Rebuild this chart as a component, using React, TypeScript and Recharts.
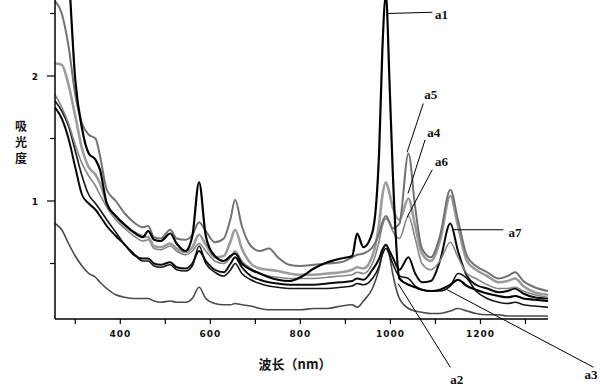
import React from 'react';
import { LineChart, Line, XAxis, YAxis, ReferenceLine, ReferenceDot } from 'recharts';

// wavelength (nm)
const WAVELENGTH = [
  255, 270, 285, 300, 315, 330, 345, 355, 370, 390,
  410, 430, 450, 462, 475, 490, 511, 525, 545, 560,
  575, 590, 610, 630, 645, 655, 670, 690, 710, 730,
  750, 775, 800, 830, 860, 890, 915, 926, 940, 960,
  975, 982, 990, 998, 1005, 1020, 1040, 1055, 1070, 1090, 1110, 1133,
  1150, 1170, 1190, 1215, 1240, 1260, 1277, 1295, 1320, 1350,
];

// absorbance of each sample
const A1 = [
  3.3, 3.5, 2.85, 1.97, 1.58, 1.38, 1.33, 1.25, 0.98, 0.88,
  0.81, 0.75, 0.71, 0.76, 0.69, 0.68, 0.74, 0.66, 0.6, 0.72,
  1.15, 0.72, 0.56, 0.52, 0.56, 0.58, 0.5, 0.45, 0.42, 0.39,
  0.37, 0.36, 0.39, 0.46, 0.51, 0.54, 0.56, 0.74, 0.63, 0.75,
  1.4, 2.2, 2.65, 1.95, 1.25, 0.38, 0.33, 0.31, 0.29, 0.28, 0.29, 0.33,
  0.37, 0.32, 0.29, 0.26, 0.24, 0.23, 0.24, 0.22, 0.21, 0.2,
];
const A2 = [
  0.82, 0.77, 0.66, 0.56, 0.48, 0.42, 0.39, 0.35, 0.3, 0.25,
  0.23, 0.22, 0.22, 0.22, 0.2, 0.19, 0.2, 0.19, 0.19, 0.22,
  0.31, 0.22, 0.18, 0.17, 0.17, 0.18, 0.17, 0.16, 0.14, 0.13,
  0.13, 0.13, 0.13, 0.14, 0.14, 0.16, 0.17, 0.15, 0.2, 0.3,
  0.46, 0.58, 0.65, 0.56, 0.42, 0.22, 0.14, 0.12, 0.11, 0.1, 0.1, 0.12,
  0.14, 0.12, 0.1, 0.09, 0.09, 0.08, 0.08, 0.08, 0.08, 0.08,
];
const A3 = [
  1.8, 1.72, 1.6, 1.4, 1.2, 1.05, 0.98, 0.93, 0.85, 0.75,
  0.65, 0.58, 0.52, 0.52, 0.48, 0.47, 0.49, 0.45, 0.44, 0.48,
  0.64, 0.5, 0.43, 0.4, 0.45, 0.5, 0.42, 0.37, 0.34, 0.32,
  0.31, 0.3, 0.3, 0.3, 0.3, 0.31, 0.32, 0.34, 0.33, 0.38,
  0.48, 0.57, 0.62, 0.57, 0.5, 0.4, 0.38, 0.32, 0.29, 0.28, 0.28, 0.32,
  0.42, 0.38, 0.28, 0.22, 0.19, 0.18, 0.19, 0.17, 0.16, 0.15,
];
const A4 = [
  2.1, 2.09, 1.93, 1.68, 1.42, 1.27, 1.21, 1.14, 0.98, 0.87,
  0.8, 0.75, 0.72, 0.71, 0.64, 0.63, 0.66, 0.62, 0.59, 0.63,
  0.73, 0.65, 0.55, 0.56, 0.68, 0.77, 0.62, 0.5, 0.46, 0.45,
  0.44, 0.42, 0.41, 0.41, 0.42, 0.43, 0.45, 0.47, 0.46, 0.56,
  0.82, 1.04, 1.15, 1.06, 0.95, 0.85, 1.02, 0.8, 0.58, 0.52, 0.68, 1.04,
  0.8, 0.52, 0.45, 0.4, 0.35, 0.36, 0.38, 0.32, 0.27, 0.25,
];
const A5 = [
  2.6, 2.5, 2.24, 1.85, 1.62, 1.53, 1.5, 1.36, 1.09, 1.0,
  0.9, 0.83, 0.79, 0.8, 0.71, 0.7, 0.77, 0.7, 0.69, 0.73,
  0.83, 0.76, 0.67, 0.7, 0.86, 1.01, 0.8, 0.64, 0.6, 0.62,
  0.55, 0.49, 0.48, 0.49, 0.5, 0.51, 0.55, 0.57, 0.58, 0.63,
  0.74, 0.83, 0.88, 0.83, 0.78, 0.82, 1.38, 0.95, 0.62, 0.55, 0.72, 1.09,
  0.85, 0.56, 0.48, 0.43, 0.38, 0.4, 0.43, 0.36, 0.31, 0.28,
];
const A6 = [
  1.85, 1.75, 1.62, 1.45, 1.3, 1.2, 1.12, 1.05, 0.95, 0.85,
  0.78, 0.72, 0.68, 0.69, 0.62, 0.61, 0.64, 0.6, 0.57, 0.6,
  0.66, 0.6, 0.52, 0.5, 0.55, 0.6, 0.52, 0.46, 0.42, 0.4,
  0.39, 0.38, 0.38, 0.38, 0.39, 0.4, 0.41, 0.43, 0.42, 0.5,
  0.68, 0.8, 0.86, 0.82, 0.76, 0.7, 0.88, 0.7, 0.5, 0.45, 0.52, 0.67,
  0.55, 0.42, 0.38, 0.33, 0.3, 0.3, 0.31, 0.28, 0.25, 0.23,
];
const A7 = [
  1.75, 1.66, 1.5, 1.27, 1.05, 0.98, 0.93, 0.88, 0.8, 0.72,
  0.65, 0.57, 0.54, 0.54, 0.5, 0.49, 0.51, 0.47, 0.46, 0.5,
  0.6, 0.52, 0.45, 0.43, 0.5, 0.55, 0.47, 0.4, 0.37, 0.35,
  0.34, 0.33, 0.33, 0.33, 0.34, 0.35, 0.36, 0.38, 0.37, 0.45,
  0.54, 0.61, 0.65, 0.6, 0.55, 0.45, 0.55, 0.42, 0.35, 0.36, 0.52, 0.82,
  0.6, 0.4, 0.33, 0.3, 0.27, 0.28, 0.3, 0.26, 0.23, 0.22,
];

const X_TICKS = [300, 400, 500, 600, 700, 800, 900, 1000, 1100, 1200, 1300];
const Y_TICKS = [0.5, 1, 1.5, 2, 2.5];

const data = WAVELENGTH.map((wl, i) => ({
  wl,
  a1: A1[i], a2: A2[i], a3: A3[i], a4: A4[i], a5: A5[i], a6: A6[i], a7: A7[i],
}));

// drawing order + styles
const SERIES = [
  { key: 'a2', color: '#4a4a4a', width: 1.6 },
  { key: 'a3', color: '#151515', width: 1.6 },
  { key: 'a7', color: '#0a0a0a', width: 2 },
  { key: 'a6', color: '#858585', width: 1.6 },
  { key: 'a4', color: '#9c9c9c', width: 2.6 },
  { key: 'a5', color: '#727272', width: 2 },
  { key: 'a1', color: '#000000', width: 2.2 },
];

// leader lines for the curve labels (data coordinates)
const LEADERS = [
  { name: 'a1', from: [995, 2.5], to: [1093, 2.51], text: [1099, 2.46] },
  { name: 'a5', from: [1037, 1.39], to: [1073, 1.78], text: [1075, 1.82] },
  { name: 'a4', from: [1039, 1.06], to: [1077, 1.49], text: [1082, 1.51] },
  { name: 'a6', from: [1037, 0.87], to: [1093, 1.25], text: [1099, 1.28] },
  { name: 'a7', from: [1137, 0.77], to: [1251, 0.77], text: [1262, 0.71] },
  { name: 'a2', from: [1017, 0.34], to: [1133, -0.33], text: [1133, -0.46] },
  { name: 'a3', from: [1126, 0.29], to: [1451, -0.33], text: [1431, -0.42] },
];

const tickFont = { fontFamily: 'DejaVu Sans', fontSize: 9, fontWeight: 700, fill: '#111' };

const XTick = (props: any) => {
  const { x, y, payload } = props;
  const v = payload.value;
  return (
    <g>
      <line x1={x} y1={y} x2={x} y2={y + 5} stroke="#000" strokeWidth={1.2} />
      {v % 200 === 0 && (
        <text x={x} y={y + 18} textAnchor="middle" letterSpacing={1} {...tickFont}>
          {v}
        </text>
      )}
    </g>
  );
};

const YTick = (props: any) => {
  const { x, y, payload } = props;
  const v = payload.value;
  const major = Number.isInteger(v);
  return (
    <g>
      <line x1={x - (major ? 8 : 5)} y1={y} x2={x} y2={y} stroke="#000" strokeWidth={1.2} />
      {major && (
        <text x={x - 17} y={y + 4} textAnchor="end" {...tickFont}>
          {v}
        </text>
      )}
    </g>
  );
};

const labelStyle = { fontFamily: 'Liberation Serif', fontSize: 13, fontWeight: 700, fill: '#111' };

export default function App() {
  return (
    <div style={{ position: 'absolute', left: 0, top: 0, width: 600, height: 389, background: '#fff' }}>
      <LineChart width={600} height={389} data={data} margin={{ top: 0, right: 52, bottom: 0, left: 0 }}>
        <XAxis
          dataKey="wl"
          type="number"
          domain={[255, 1350]}
          allowDataOverflow
          ticks={X_TICKS}
          height={70}
          tickSize={0}
          tickMargin={0}
          tickLine={false}
          tick={<XTick />}
          axisLine={{ stroke: '#000', strokeWidth: 1.5 }}
        />
        <YAxis
          type="number"
          domain={[0.056, 2.608]}
          allowDataOverflow
          ticks={Y_TICKS}
          width={55}
          tickSize={0}
          tickMargin={0}
          tickLine={false}
          tick={<YTick />}
          axisLine={{ stroke: '#000', strokeWidth: 1.5 }}
        />
        {SERIES.map((s) => (
          <Line
            key={s.key}
            dataKey={s.key}
            type="monotone"
            stroke={s.color}
            strokeWidth={s.width}
            dot={false}
            isAnimationActive={false}
          />
        ))}
        {LEADERS.map((l) => (
          <ReferenceLine
            key={'l' + l.name}
            segment={[{ x: l.from[0], y: l.from[1] }, { x: l.to[0], y: l.to[1] }]}
            stroke="#000"
            strokeWidth={1}
            ifOverflow="visible"
          />
        ))}
        {LEADERS.map((l) => (
          <ReferenceDot
            key={'t' + l.name}
            x={l.text[0]}
            y={l.text[1]}
            r={0}
            ifOverflow="visible"
            shape={(p: any) => (
              <text x={p.cx} y={p.cy} {...labelStyle}>
                {l.name}
              </text>
            )}
          />
        ))}
      </LineChart>
      {['吸', '光', '度'].map((ch, i) => (
        <div
          key={ch}
          style={{
            position: 'absolute', left: 13, top: 119 + i * 16, width: 16, height: 14,
            fontFamily: 'Noto Sans CJK SC', fontSize: 12, fontWeight: 700, lineHeight: '14px',
            color: '#111', textAlign: 'center',
          }}
        >
          {ch}
        </div>
      ))}
      <div
        style={{
          position: 'absolute', left: 240, top: 354, width: 110, textAlign: 'center',
          fontFamily: 'Noto Sans CJK SC', fontSize: 13, fontWeight: 700, color: '#111',
        }}
      >
        波长（nm）
      </div>
    </div>
  );
}
